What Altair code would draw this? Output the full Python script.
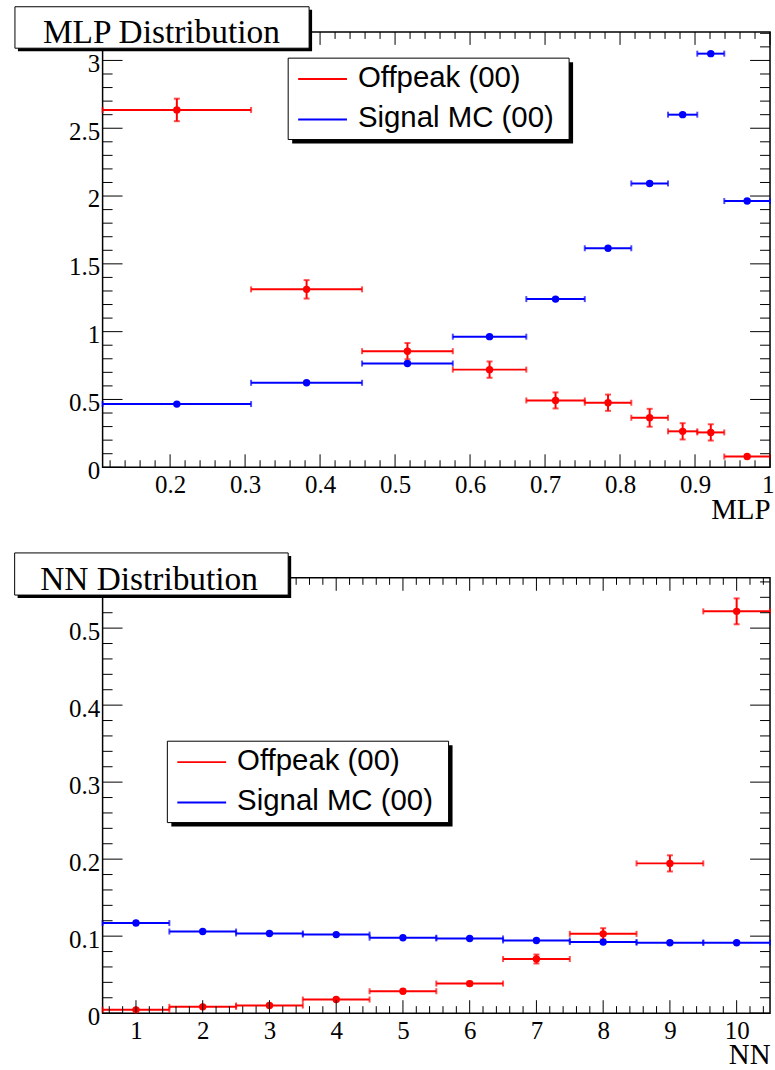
import altair as alt
import pandas as pd

# ---------------- data ----------------
SERIES = ["Offpeak (00)", "Signal MC (00)"]
COLORS = ["#ff0000", "#0000ff"]

# MLP panel
MLP_TITLE = "MLP Distribution"
MLP_XTITLE = "MLP"
MLP_EDGES = [0.11, 0.308, 0.456, 0.577, 0.675, 0.753, 0.815, 0.864, 0.903, 0.939, 1.0]
MLP_OFF = [2.635, 1.312, 0.856, 0.720, 0.493, 0.476, 0.365, 0.265, 0.257, 0.079]
MLP_OFF_ERR = [0.083, 0.068, 0.060, 0.060, 0.059, 0.060, 0.066, 0.060, 0.060, 0.012]
MLP_SIG = [0.466, 0.623, 0.765, 0.963, 1.240, 1.615, 2.093, 2.600, 3.050, 1.963]
MLP_SIG_ERR = [0.006, 0.007, 0.007, 0.008, 0.008, 0.009, 0.010, 0.010, 0.011, 0.010]
MLP_XDOM = [0.11, 1.0]
MLP_YDOM = [0.0, 3.21]
MLP_XLABELS = [0.2, 0.3, 0.4, 0.5, 0.6, 0.7, 0.8, 0.9, 1.0]
MLP_YLABELS = [0, 0.5, 1, 1.5, 2, 2.5, 3]

# NN panel
NN_TITLE = "NN Distribution"
NN_XTITLE = "NN"
NN_EDGES = [0.5, 1.5, 2.5, 3.5, 4.5, 5.5, 6.5, 7.5, 8.5, 9.5, 10.5]
NN_OFF = [0.0043, 0.0082, 0.0099, 0.0177, 0.0285, 0.0384, 0.0703, 0.1030, 0.1945, 0.5218]
NN_OFF_ERR = [0.0010, 0.0012, 0.0013, 0.0017, 0.0020, 0.0025, 0.0058, 0.0073, 0.0105, 0.0168]
NN_SIG = [0.1170, 0.1060, 0.1035, 0.1020, 0.0980, 0.0970, 0.0944, 0.0923, 0.0915, 0.0915]
NN_SIG_ERR = [0.0008, 0.0008, 0.0008, 0.0008, 0.0008, 0.0008, 0.0008, 0.0008, 0.0008, 0.0008]
NN_XDOM = [0.5, 10.5]
NN_YDOM = [0.0, 0.5653]
NN_XLABELS = [1, 2, 3, 4, 5, 6, 7, 8, 9, 10]
NN_YLABELS = [0, 0.1, 0.2, 0.3, 0.4, 0.5]

W, H = 670, 437
SERIF = "Liberation Serif"
SANS = "Liberation Sans"


def minor_ticks(dom, step, major_step):
    out = []
    k = int(round(dom[0] / step))
    while k * step <= dom[1] + 1e-9:
        v = round(k * step, 4)
        if v >= dom[0] - 1e-9 and abs(v / major_step - round(v / major_step)) > 1e-6:
            out.append(v)
        k += 1
    return out


def major_ticks(dom, major_step):
    out = []
    k = int(round(dom[0] / major_step))
    while k * major_step <= dom[1] + 1e-9:
        v = round(k * major_step, 4)
        if v >= dom[0] - 1e-9:
            out.append(v)
        k += 1
    return out


def panel(title, xtitle, edges, off, off_err, sig, sig_err, xdom, ydom,
          xlabels, ylabels, xmaj, xmin, ymaj, ymin, tbox, leg):
    rows = []
    for name, vals, errs in [(SERIES[0], off, off_err), (SERIES[1], sig, sig_err)]:
        for i, (v, e) in enumerate(zip(vals, errs)):
            lo, hi = edges[i], edges[i + 1]
            rows.append(dict(series=name, x=(lo + hi) / 2, xlo=lo, xhi=hi,
                             y=v, ylo=v - e, yhi=v + e))
    df = pd.DataFrame(rows)
    caps_h = pd.concat([df.assign(cx=df.xlo), df.assign(cx=df.xhi)])
    caps_v = pd.concat([df.assign(cy=df.ylo), df.assign(cy=df.yhi)])

    xs = alt.Scale(domain=xdom, nice=False, zero=False)
    ys = alt.Scale(domain=ydom, nice=False, zero=False)
    color = alt.Color("series:N", scale=alt.Scale(domain=SERIES, range=COLORS), legend=None)

    xaxis = alt.Axis(values=xlabels, format="~r", ticks=False, tickSize=0, domain=False,
                     grid=False, labelFont=SERIF, labelFontSize=25, labelColor="black",
                     labelPadding=5, labelFlush=5, labelFlushOffset=4, labelOverlap=False,
                     title=xtitle, titleFont=SERIF, titleFontSize=29,
                     titleFontWeight="normal", titleColor="black",
                     titleAlign="right", titleAnchor="end", titleBaseline="alphabetic",
                     titleX=W, titleY=51)
    yaxis = alt.Axis(values=ylabels, format="~r", ticks=False, tickSize=0, domain=False,
                     grid=False, labelFont=SERIF, labelFontSize=25, labelColor="black",
                     labelPadding=3, labelFlush=False, labelOverlap=False,
                     labelOffset=3, title="")

    def X(f):
        return alt.X(f, scale=xs, axis=xaxis)

    def Y(f):
        return alt.Y(f, scale=ys, axis=yaxis)

    hbar = alt.Chart(df).mark_rule(strokeWidth=2).encode(
        x=X("xlo:Q"), x2="xhi:Q", y=Y("y:Q"), color=color)
    vbar = alt.Chart(df).mark_rule(strokeWidth=2).encode(
        x=X("x:Q"), y=Y("ylo:Q"), y2="yhi:Q", color=color)
    hcap = alt.Chart(caps_h).mark_tick(orient="vertical", size=6, thickness=2).encode(
        x=X("cx:Q"), y=Y("y:Q"), color=color)
    vcap = alt.Chart(caps_v).mark_tick(orient="horizontal", size=6, thickness=2).encode(
        x=X("x:Q"), y=Y("cy:Q"), color=color)
    pts = alt.Chart(df).mark_circle(size=55, opacity=1).encode(
        x=X("x:Q"), y=Y("y:Q"), color=color)

    def xt(vals, length, top):
        d = pd.DataFrame({"v": vals})
        if top:
            yy, yy2 = alt.value(0), alt.value(length)
        else:
            yy, yy2 = alt.value(H), alt.value(H - length)
        return alt.Chart(d).mark_rule(color="black", strokeWidth=1).encode(
            x=X("v:Q"), y=yy, y2=yy2)

    def yt(vals, length, right):
        d = pd.DataFrame({"v": vals})
        if right:
            xx, xx2 = alt.value(W), alt.value(W - length)
        else:
            xx, xx2 = alt.value(0), alt.value(length)
        return alt.Chart(d).mark_rule(color="black", strokeWidth=1).encode(
            y=Y("v:Q"), x=xx, x2=xx2)

    tick_layers = [xt(xmaj, 13, False), xt(xmin, 7, False),
                   xt(xmaj, 13, True), xt(xmin, 7, True),
                   yt(ymaj, 20, False), yt(ymin, 10, False),
                   yt(ymaj, 20, True), yt(ymin, 10, True)]

    # title box (ROOT style, with shadow)
    tx0, tx1, ty0, ty1, tcx, tby = tbox
    tdf = pd.DataFrame({"t": [title]})
    t_sh = alt.Chart(tdf).mark_rect(color="black").encode(
        x=alt.value(tx0 + 3), x2=alt.value(tx1 + 3), y=alt.value(ty0 + 3), y2=alt.value(ty1 + 3))
    t_box = alt.Chart(tdf).mark_rect(fill="white", stroke="black", strokeWidth=1).encode(
        x=alt.value(tx0), x2=alt.value(tx1), y=alt.value(ty0), y2=alt.value(ty1))
    t_txt = alt.Chart(tdf).mark_text(font=SERIF, fontSize=33.5, align="center",
                                     baseline="alphabetic", color="black").encode(
        x=alt.value(tcx), y=alt.value(tby), text="t:N")

    # legend box
    lx0, lx1, ly0, ly1 = leg
    ldf = pd.DataFrame({"series": SERIES})
    l_sh = alt.Chart(ldf.head(1)).mark_rect(color="black").encode(
        x=alt.value(lx0 + 4), x2=alt.value(lx1 + 4), y=alt.value(ly0 + 4), y2=alt.value(ly1 + 4))
    l_box = alt.Chart(ldf.head(1)).mark_rect(fill="white", stroke="black", strokeWidth=1).encode(
        x=alt.value(lx0), x2=alt.value(lx1), y=alt.value(ly0), y2=alt.value(ly1))
    leg_layers = [l_sh, l_box]
    for i, name in enumerate(SERIES):
        sub = ldf[ldf.series == name]
        yline = ly0 + 21 + 40.6 * i
        leg_layers.append(alt.Chart(sub).mark_rule(strokeWidth=2).encode(
            x=alt.value(lx0 + 10), x2=alt.value(lx0 + 59), y=alt.value(yline), color=color))
        leg_layers.append(alt.Chart(sub).mark_text(font=SANS, fontSize=29.5, align="left",
                                                   baseline="alphabetic", color="black").encode(
            x=alt.value(lx0 + 70), y=alt.value(yline + 7.6), text="series:N"))

    return alt.layer(hbar, vbar, hcap, vcap, pts, *tick_layers,
                     t_sh, t_box, t_txt, *leg_layers).properties(width=W, height=H)


top = panel(MLP_TITLE, MLP_XTITLE, MLP_EDGES, MLP_OFF, MLP_OFF_ERR, MLP_SIG, MLP_SIG_ERR,
            MLP_XDOM, MLP_YDOM, MLP_XLABELS, MLP_YLABELS,
            major_ticks(MLP_XDOM, 0.1), minor_ticks(MLP_XDOM, 0.02, 0.1),
            major_ticks(MLP_YDOM, 0.5), minor_ticks(MLP_YDOM, 0.1, 0.5),
            (-88, 207.3, -25.3, 16.3, 59, 10.7),
            (186.3, 468.3, 26.3, 108))

bottom = panel(NN_TITLE, NN_XTITLE, NN_EDGES, NN_OFF, NN_OFF_ERR, NN_SIG, NN_SIG_ERR,
               NN_XDOM, NN_YDOM, NN_XLABELS, NN_YLABELS,
               major_ticks(NN_XDOM, 1), minor_ticks(NN_XDOM, 0.2, 1),
               major_ticks(NN_YDOM, 0.1), minor_ticks(NN_YDOM, 0.02, 0.1),
               (-88.3, 186.3, -25, 17.3, 46.6, 12.3),
               (65, 347.3, 164, 245.7))

chart = alt.vconcat(top, bottom, spacing=111, bounds="flush").properties(
    padding={"left": 13, "top": 3, "right": 0, "bottom": 0}
).configure_view(stroke="black", strokeWidth=1.5)

chart.save("out.html", embed_options={"renderer": "svg", "actions": False})
